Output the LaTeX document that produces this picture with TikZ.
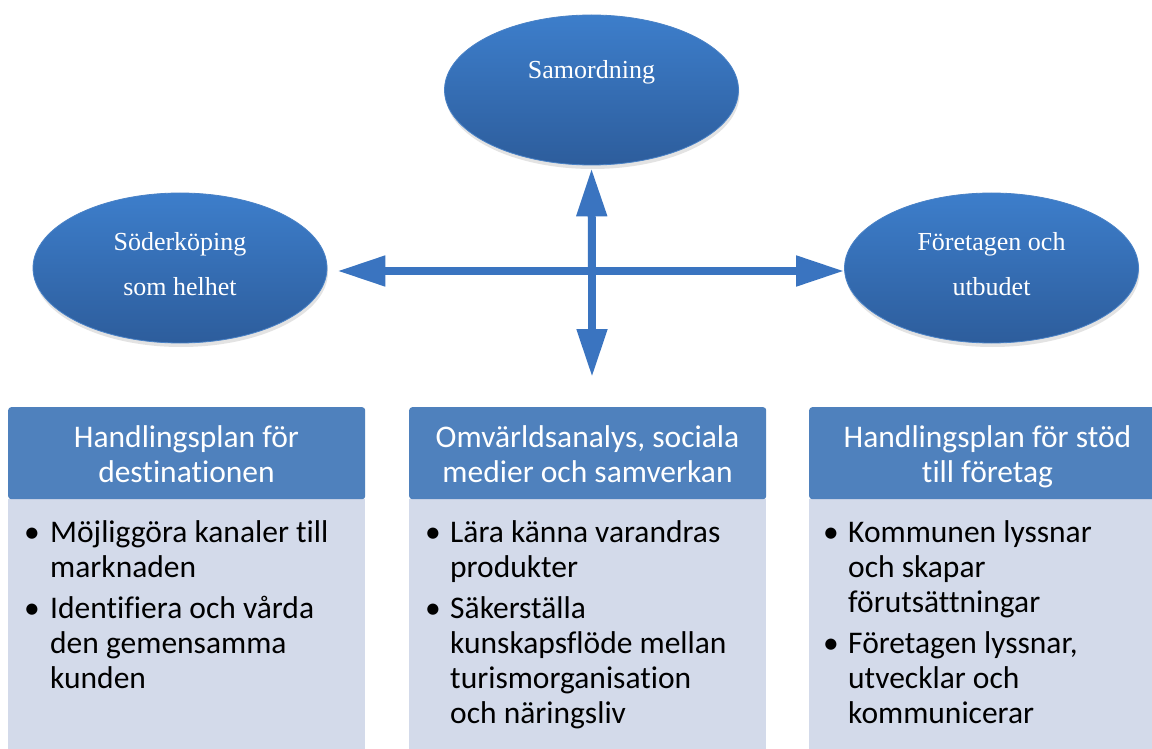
\documentclass[tikz,border=0pt]{standalone}
\usepackage{fontspec}
\setmainfont{Liberation Serif}
\newfontfamily\calfont[Ligatures=NoCommon]{Carlito}
\usetikzlibrary{arrows.meta,shadows,shapes.geometric}
\definecolor{ellTop}{HTML}{3D7ECB}
\definecolor{ellBot}{HTML}{2D5D9C}
\definecolor{ellLine}{HTML}{4A82C6}
\definecolor{arrowBlue}{HTML}{3A74C0}
\definecolor{headBlue}{HTML}{4F81BD}
\definecolor{bodyBlue}{HTML}{D3DAEA}
\begin{document}
\begin{tikzpicture}[x=1pt,y=-1pt,
  oval/.style={ellipse, minimum width=294pt, minimum height=150pt, inner sep=0pt,
    top color=ellTop, bottom color=ellBot, draw=ellLine, line width=0.8pt,
    drop shadow={opacity=0.22, shadow xshift=1pt, shadow yshift=-4pt}},
  ovaltext/.style={font=\fontsize{26}{45}\selectfont, text=white, align=center, inner sep=0pt},
  arr/.style={draw=arrowBlue, line width=8pt, -{Triangle[length=48pt, width=29pt]}},
  headbox/.style={rectangle, minimum width=357pt, minimum height=92pt, inner sep=0pt,
    fill=headBlue, rounded corners=3pt},
  bodybox/.style={rectangle, minimum width=357pt, minimum height=250pt, inner sep=0pt,
    fill=bodyBlue},
  headtext/.style={font=\calfont\fontsize{31.5}{35}\selectfont, text=white, align=center, inner sep=0pt},
  itemtext/.style={font=\calfont\fontsize{31.5}{35}\selectfont, text=black, align=left, inner sep=0pt, anchor=base west},
  bul/.style={font=\calfont\fontsize{31.5}{35}\selectfont, text=black, inner sep=0pt, anchor=base}
]
\useasboundingbox (0,0) rectangle (1152,749);
\fill[white] (0,0) rectangle (1152,749);

% ellipses
\node[oval] (top) at (591.5,90) {};
\node[oval] (left) at (180,268) {};
\node[oval] (right) at (991.5,268) {};
% multi-line texts are anchored at the baseline of their last line
\node[ovaltext, anchor=base] (toptext) at (591.5,79) {Samordning};
\node[ovaltext, anchor=base] (lefttext) at (180,295) {Söderköping\\som helhet};
\node[ovaltext, anchor=base] (righttext) at (991.5,295) {Företagen och\\utbudet};

% arrows
\coordinate (c) at (592,271);
\coordinate (downend) at (592,377);
\draw[arr, shorten >=3pt] (c) -- (top.south);
\draw[arr, shorten >=10pt] (c) -- (left.east |- c);
\draw[arr] (c) -- (right.west |- c);
\draw[arr] (c) -- (downend);

% boxes
\node[bodybox, anchor=north west] (b1) at (8,499) {};
\node[bodybox, anchor=north west] (b2) at (409,499) {};
\node[bodybox, anchor=north west] (b3) at (809,499) {};
\node[headbox, anchor=north west] (h1) at (8,407) {};
\node[headbox, anchor=north west] (h2) at (409,407) {};
\node[headbox, anchor=north west] (h3) at (809,407) {};

\node[headtext, anchor=base] (h1t) at (186.5,482) {Handlingsplan för\\destinationen};
\node[headtext, anchor=base] (h2t) at (587.5,482) {Omvärldsanalys, sociala\\medier och samverkan};
\node[headtext, anchor=base] (h3t) at (987.5,482) {Handlingsplan för stöd\\till företag};

% left bullets
\node[bul] (l1b) at (32,542) {•};
\node[itemtext] (l1) at (50,577) {Möjliggöra kanaler till\\marknaden};
\node[bul] (l2b) at (32,618) {•};
\node[itemtext] (l2) at (50,688) {Identifiera och vårda\\den gemensamma\\kunden};

% middle bullets
\node[bul] (m1b) at (433,542) {•};
\node[itemtext] (m1) at (450,577) {Lära känna varandras\\produkter};
\node[bul] (m2b) at (433,618) {•};
\node[itemtext] (m2) at (450,723) {Säkerställa\\kunskapsflöde mellan\\turismorganisation\\och näringsliv};

% right bullets
\node[bul] (r1b) at (831,542) {•};
\node[itemtext] (r1) at (848,612) {Kommunen lyssnar\\och skapar\\förutsättningar};
\node[bul] (r2b) at (831,653) {•};
\node[itemtext] (r2) at (848,723) {Företagen lyssnar,\\utvecklar och\\kommunicerar};
\end{tikzpicture}
\end{document}
